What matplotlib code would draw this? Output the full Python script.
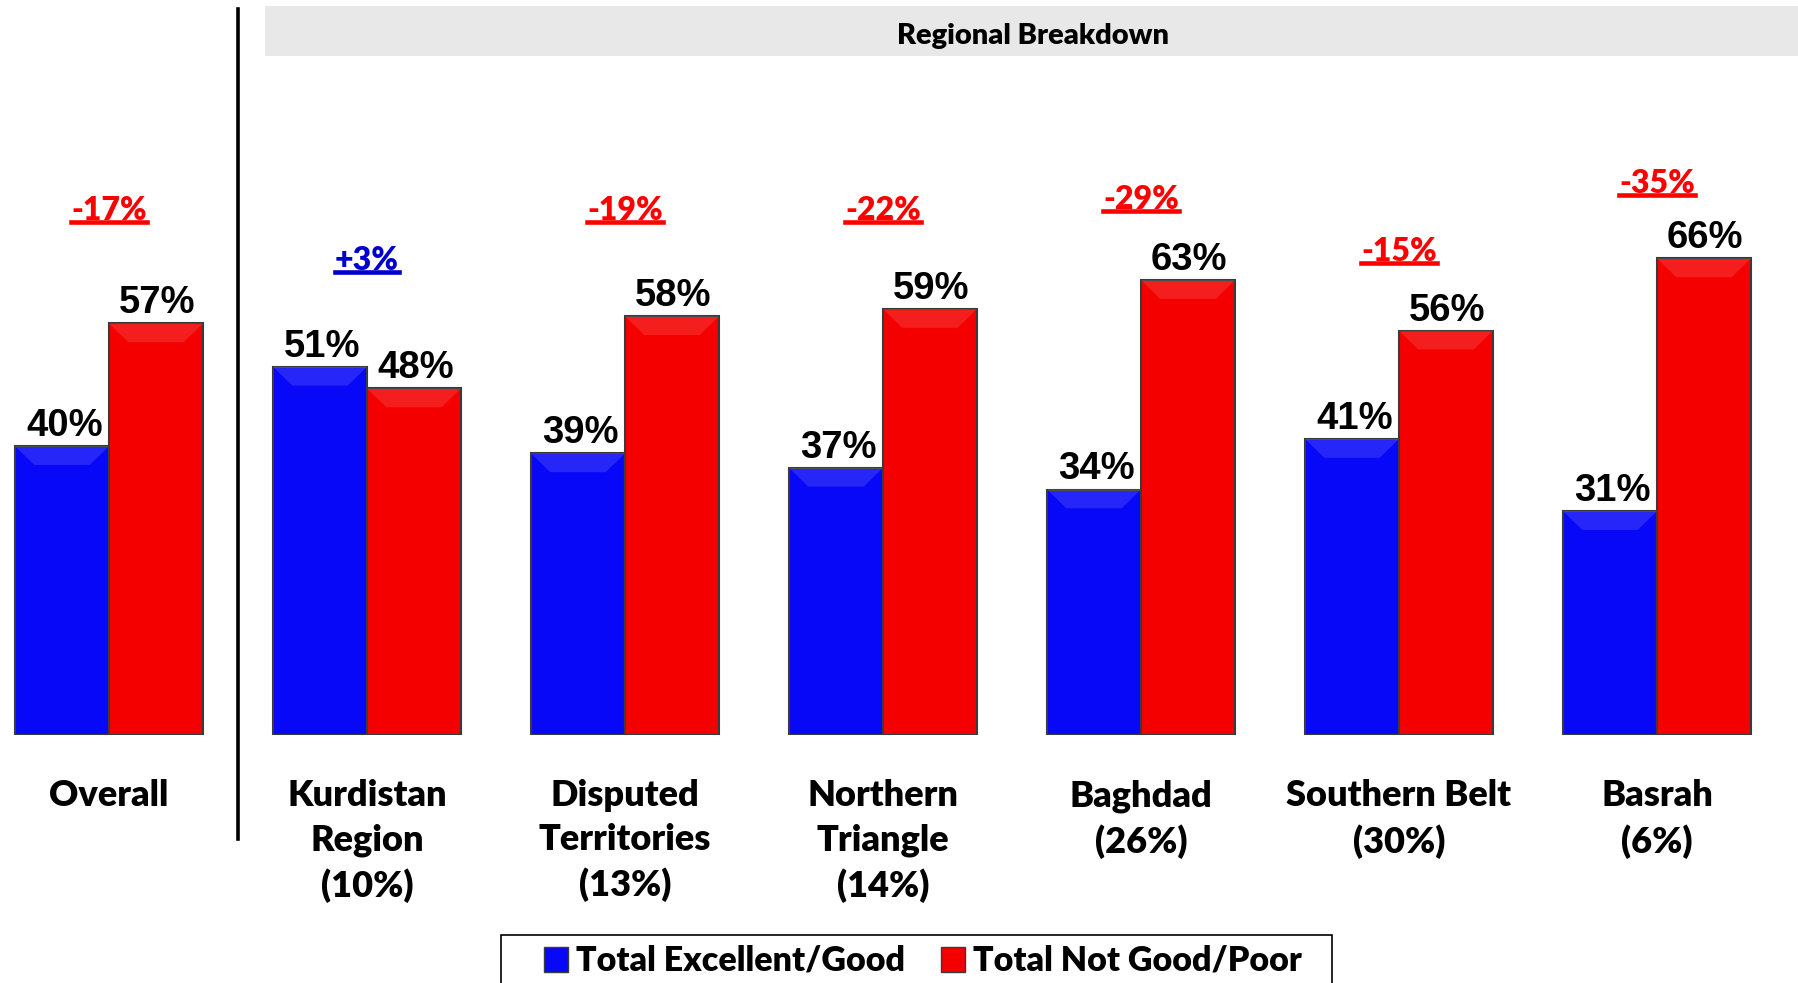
import matplotlib
matplotlib.use("Agg")
from matplotlib import pyplot as plt
from matplotlib.patches import Rectangle, Patch, Polygon
from matplotlib.lines import Line2D

groups = ["Overall", "Kurdistan\nRegion\n(10%)", "Disputed\nTerritories\n(13%)",
          "Northern\nTriangle\n(14%)", "Baghdad\n(26%)", "Southern Belt\n(30%)", "Basrah\n(6%)"]
good = [40, 51, 39, 37, 34, 41, 31]
poor = [57, 48, 58, 59, 63, 56, 66]
diff = ["-17%", "+3%", "-19%", "-22%", "-29%", "-15%", "-35%"]
diff_colors = ["#ff0000", "#0000cc", "#ff0000", "#ff0000", "#ff0000", "#ff0000", "#ff0000"]
# height (in % units) where each difference label sits
diff_y = [72.7, 65.7, 72.7, 72.7, 74.2, 66.9, 76.4]

W, H = 1798, 983
cal = ["Lato", "DejaVu Sans"]
num = ["Liberation Sans", "DejaVu Sans"]
heavy = "heavy"

fig = plt.figure(figsize=(W / 100, H / 100), dpi=100)
ax = fig.add_axes([0, 248 / H, 1, 735 / H])
ax.set_xlim(-109 / 258, (W - 109) / 258)
ax.set_ylim(0, 735 / 7.22)

x = list(range(len(groups)))
bw = 94 / 258
b1 = ax.bar([i - bw / 2 for i in x], good, bw, color="#0808f8", edgecolor="#3a3a3a", linewidth=1.5, label="Total Excellent/Good")
b2 = ax.bar([i + bw / 2 for i in x], poor, bw, color="#f40000", edgecolor="#3a3a3a", linewidth=1.5, label="Total Not Good/Poor")

# light bevel on the top of each bar
for bars in (b1, b2):
    for r in bars:
        x0, w, h = r.get_x(), r.get_width(), r.get_height()
        d = 0.075
        ax.add_patch(Polygon([(x0, h), (x0 + w, h), (x0 + w - d, h - 2.6), (x0 + d, h - 2.6)],
                             closed=True, facecolor="white", alpha=0.12, edgecolor="none"))

for i in x:
    ax.text(i - bw / 2 + 0.01, good[i] + 1.4, f"{good[i]}%", ha="center", va="baseline",
            fontsize=27.5, fontweight="bold", family=num)
    ax.text(i + bw / 2 + 0.005, poor[i] + 1.4, f"{poor[i]}%", ha="center", va="baseline",
            fontsize=27.5, fontweight="bold", family=num)

diff_texts = []
for i in x:
    t = ax.text(i, diff_y[i], diff[i], ha="center", va="center", fontsize=23,
                fontweight=heavy, family=cal, color=diff_colors[i])
    diff_texts.append(t)

ax.set_xticks(x)
ax.set_xticklabels(groups, fontsize=26, fontweight=heavy, family=cal, linespacing=1.4)
ax.tick_params(axis="x", length=0, pad=32)
ax.set_yticks([])
for s in ax.spines.values():
    s.set_visible(False)

# underline the difference labels
fig.canvas.draw()
rend = fig.canvas.get_renderer()
for t in diff_texts:
    bb = t.get_window_extent(rend)
    yy = bb.y0 + 3
    fig.add_artist(Line2D([bb.x0 / W, bb.x1 / W], [yy / H, yy / H], color=t.get_color(), lw=3.3))

# separator and header band
fig.add_artist(Line2D([238 / W, 238 / W], [144 / H, 974 / H], color="black", lw=2.6))
fig.add_artist(Rectangle((265 / W, (H - 56) / H), (W - 265) / W, 50 / H, facecolor="#e8e8e8",
                         edgecolor="none", transform=fig.transFigure))
fig.text(1033 / W, (H - 36) / H, "Regional Breakdown", ha="center", va="center",
         fontsize=21, fontweight=heavy, family=cal)

# legend
fig.add_artist(Rectangle((501 / W, -0.05), 831 / W, 0.05 + 48 / H, facecolor="white",
                         edgecolor="black", lw=1.2, transform=fig.transFigure))
handles = [Patch(facecolor="#0808f8", edgecolor="#3a3a3a"), Patch(facecolor="#f40000", edgecolor="#3a3a3a")]
fig.legend(handles, ["Total Excellent/Good", "Total Not Good/Poor"], loc="center",
           bbox_to_anchor=(923 / W, (H - 961) / H), ncol=2, frameon=False,
           prop={"family": cal, "weight": heavy, "size": 24.5},
           handlelength=0.7, handleheight=0.75, handletextpad=0.25, columnspacing=1.05)

fig.savefig("out.png", dpi=100)
